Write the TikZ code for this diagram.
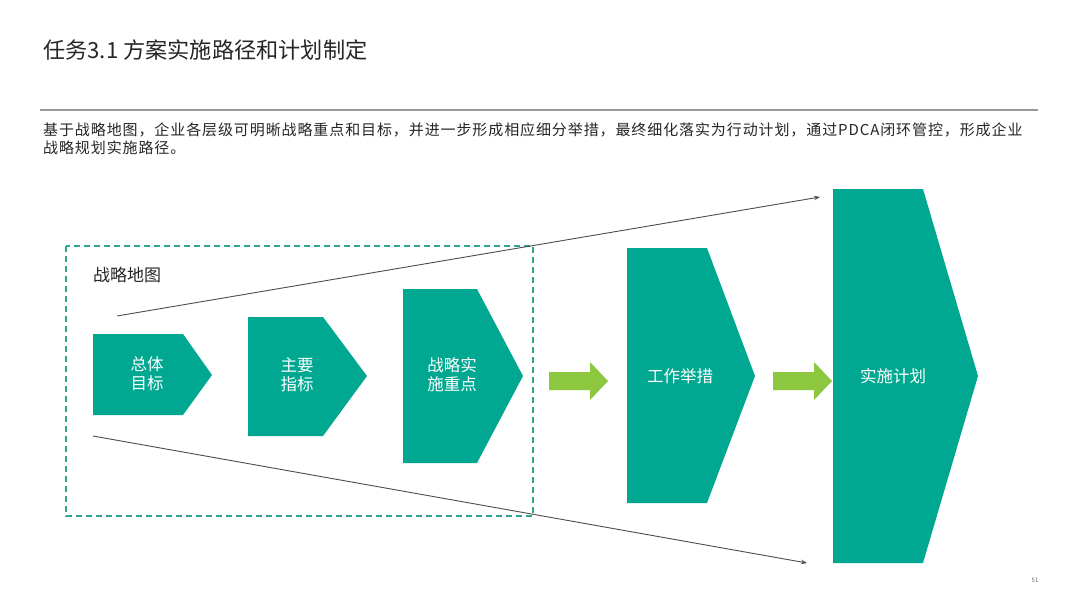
\documentclass[tikz,border=0pt]{standalone}
\usepackage{fontspec}
\setmainfont{Noto Sans CJK SC}
\usetikzlibrary{arrows.meta}
\definecolor{teal1}{HTML}{00A892}
\definecolor{lgreen}{HTML}{8DC63F}
\definecolor{dashc}{HTML}{2FA48E}
\definecolor{txt}{HTML}{262626}
\tikzset{
  chev/.style={fill=teal1, draw=none},
  chevtext/.style={text=white, font=\fontsize{16.5}{19}\selectfont, align=center, inner sep=0pt},
  garrow/.style={fill=lgreen, draw=none},
  funnel/.style={draw=black!70, line width=0.9pt, -{Stealth[length=6pt,width=4.5pt]}},
}
\begin{document}
\begin{tikzpicture}[x=1pt,y=-1pt]
\useasboundingbox (0,0) rectangle (1080,608);
\fill[white] (0,0) rectangle (1080,608);
% title
\node[anchor=west, inner sep=0pt, text=txt, font=\fontsize{22.2}{25}\selectfont] (title) at (43,50) {任务3.1 方案实施路径和计划制定};
\draw[black!40, line width=1.2pt] (40,110) -- (1038,110);
\node[anchor=north west, inner sep=0pt, text=txt, align=left, font=\fontsize{15}{18}\selectfont\addfontfeatures{LetterSpace=6}] (para) at (43,123)
 {基于战略地图，企业各层级可明晰战略重点和目标，并进一步形成相应细分举措，最终细化落实为行动计划，通过PDCA闭环管控，形成企业\\战略规划实施路径。};
% dashed box
\draw[dashc, line width=1.3pt, dash pattern=on 6pt off 4pt] (66,246) rectangle (533,516);
\node[anchor=west, inner sep=0pt, text=txt, font=\fontsize{17}{20}\selectfont] (map) at (93,275) {战略地图};
% funnel lines
\coordinate (tl) at (117,316);
\coordinate (tr) at (820,197);
\coordinate (bl) at (93,436);
\coordinate (br) at (807,563);
\draw[funnel] (tl) -- (tr);
\draw[funnel] (bl) -- (br);
% chevrons
\fill[chev] (93,334) -- (183,334) -- (212,375) -- (183,415) -- (93,415) -- cycle;
\node[chevtext] (s1) at (147,374) {总体\\目标};
\fill[chev] (248,317) -- (323,317) -- (367,376) -- (323,436) -- (248,436) -- cycle;
\node[chevtext] (s2) at (297,375) {主要\\指标};
\fill[chev] (403,289) -- (477,289) -- (523,376) -- (477,463) -- (403,463) -- cycle;
\node[chevtext] (s3) at (452,375) {战略实\\施重点};
\fill[chev] (627,248) -- (707,248) -- (755,376) -- (707,503) -- (627,503) -- cycle;
\node[chevtext] (s4) at (680,376) {工作举措};
\fill[chev] (833,189) -- (923,189) -- (978,376) -- (923,563) -- (833,563) -- cycle;
\node[chevtext] (s5) at (893,376) {实施计划};
% green arrows
\fill[garrow] (549,372) -- (590,372) -- (590,362) -- (608,381) -- (590,400) -- (590,390) -- (549,390) -- cycle;
\fill[garrow] (773,372) -- (814,372) -- (814,362) -- (832,381) -- (814,400) -- (814,390) -- (773,390) -- cycle;
% page number
\node[inner sep=0pt, text=black!60, font=\fontsize{6}{7}\selectfont] (pg) at (1035,580) {51};
\end{tikzpicture}
\end{document}
